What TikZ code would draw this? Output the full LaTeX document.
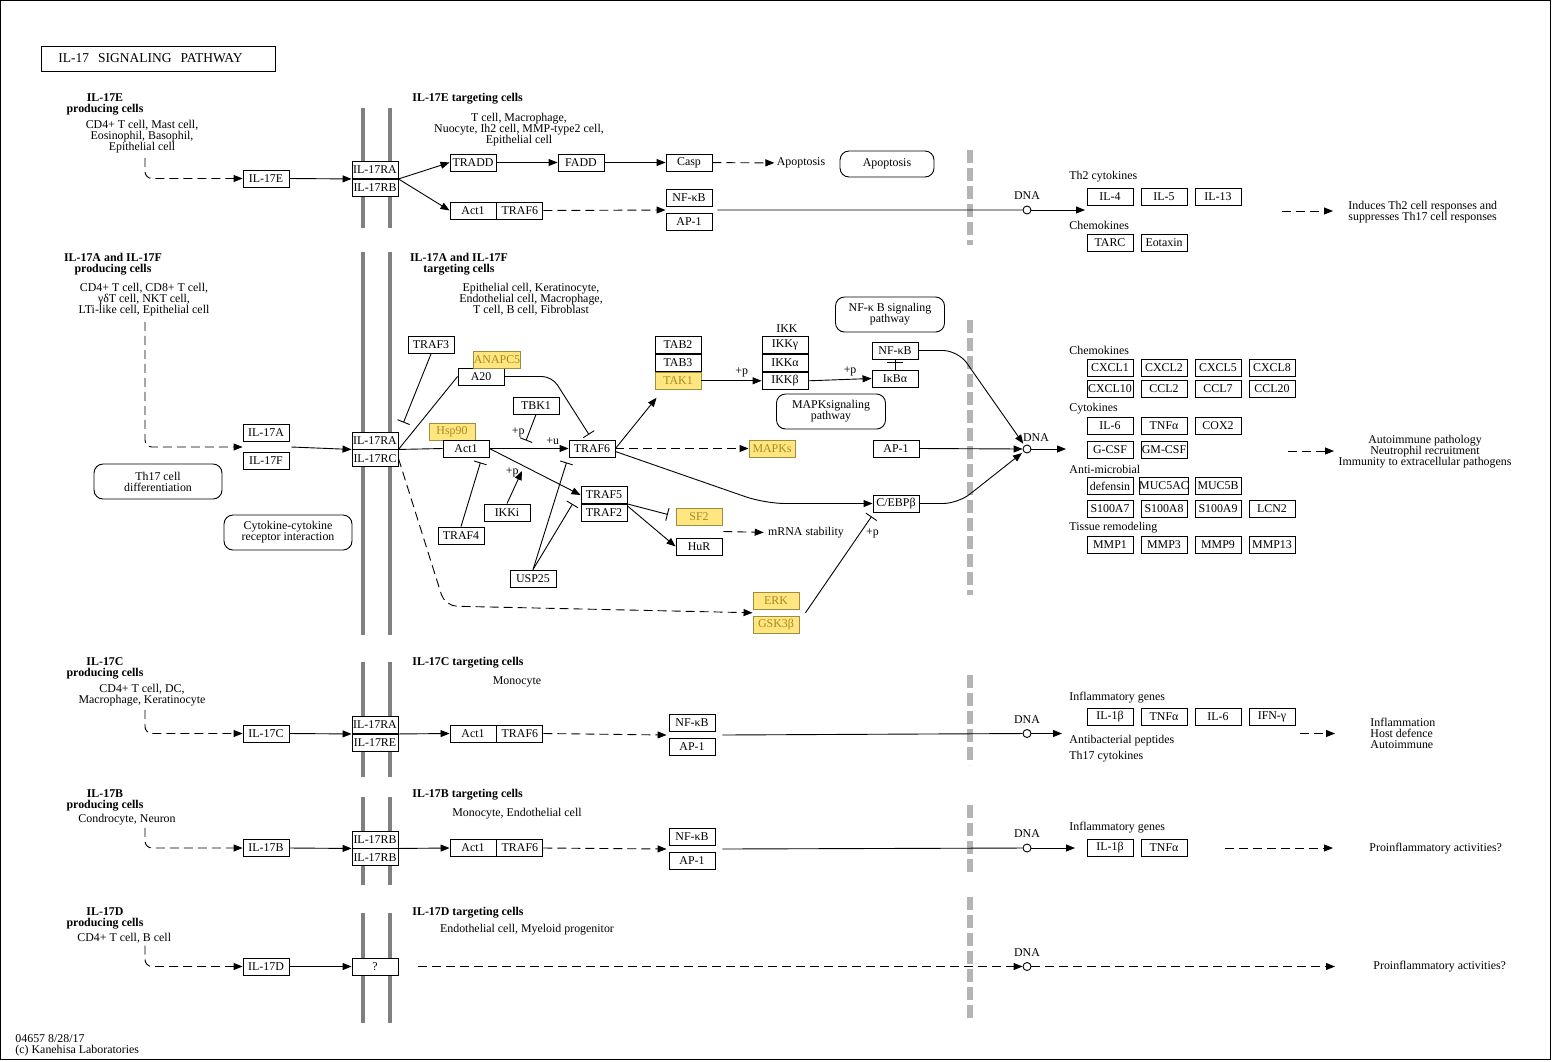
\documentclass[tikz,border=0pt]{standalone}
\usepackage{fontspec}
\setmainfont{Liberation Serif}
\usetikzlibrary{positioning}
\usetikzlibrary{calc}
\usetikzlibrary{arrows.meta}

\definecolor{hitfill}{HTML}{FFE680}
\definecolor{hitline}{HTML}{A08C3C}
\definecolor{hittext}{HTML}{A8891E}
\definecolor{membrane}{HTML}{808080}
\definecolor{nucleus}{HTML}{B4B4B4}

\newcommand{\kfont}{\fontsize{11.9}{11}\selectfont}

\begin{document}
\begin{tikzpicture}[x=1pt, y=-1pt, line width=0.9pt, font=\kfont,
    >={Triangle[length=9pt,width=7pt]},
    gene/.style={draw, fill=white, minimum width=46pt, minimum height=17pt, inner sep=0pt},
    hit/.style={gene, fill=hitfill, draw=hitline, text=hittext},
    pmap/.style={draw, rounded corners=9pt, align=center, inner sep=0pt},
    txt/.style={align=center, inner sep=0pt},
    ltxt/.style={align=left, inner sep=0pt, anchor=west},
    head/.style={txt, font=\kfont\bfseries},
    edgelbl/.style={inner sep=0pt},
    dna/.style={circle, draw, fill=white, minimum size=8pt, inner sep=0pt},
    act/.style={->},
    ind/.style={->, dash pattern=on 9pt off 5pt},
    inh/.style={-{Bar[width=13pt]}},
    mem/.style={line width=4pt, draw=membrane},
    nuc/.style={line width=6pt, draw=nucleus, dash pattern=on 13pt off 5pt}]
\useasboundingbox (0,0) rectangle (1552,1061);
\draw (0.5,0.5) rectangle (1550.5,1059.5);

\node[draw, anchor=west, minimum height=25pt, inner xsep=17pt, text width=200pt, font=\fontsize{13.5}{13}\selectfont] (title) at (41,58.5) {IL-17\ \ SIGNALING\ \ PATHWAY};

% membranes and nucleus borders
\foreach \ya/\yb in {108/228, 252/635, 662/777, 797/885, 913/1023} {
    \draw[mem] (363,\ya) -- (363,\yb);
    \draw[mem] (389.5,\ya) -- (389.5,\yb);
}
\foreach \ya/\yb in {150/245, 320/595, 675/765, 805/875, 897/1020}
    \draw[nuc] (970,\ya) -- (970,\yb);

% IL-17E
\node[head] (eProd) at (105,104.5) {IL-17E\\producing cells};
\node[txt] (eCells) at (142,137) {CD4+ T cell, Mast cell,\\Eosinophil, Basophil,\\Epithelial cell};
\node[gene] (ilE) at (266,178.5) {IL-17E};
\node[gene] (rEA) at (375,170) {IL-17RA};
\node[gene, below=0pt of rEA] (rEB) {IL-17RB};
\node[ltxt, font=\kfont\bfseries] (eTgt) at (412,99) {IL-17E targeting cells};
\node[txt] (eTcells) at (519,129.5) {T cell, Macrophage,\\Nuocyte, Ih2 cell, MMP-type2 cell,\\Epithelial cell};
\node[gene] (tradd) at (473,162.5) {TRADD};
\node[gene] (fadd) at (581,162.5) {FADD};
\node[gene] (casp) at (689,162.5) {Casp};
\node[txt] (apopT) at (801,163) {Apoptosis};
\node[pmap, minimum width=94pt, minimum height=26pt] (apopM) at (887,164) {Apoptosis};
\node[gene] (act1E) at (473,210.5) {Act1};
\node[gene, right=0pt of act1E] (traf6E) {TRAF6};
\node[gene] (nfkbE) at (689,198) {NF-κB};
\node[gene] (ap1E) at (689,222) {AP-1};
\node[dna] (dnaE) at (1027,210) {};
\node[txt] (dnaEl) at (1027,196) {DNA};
\node[ltxt] (eOut) at (1348,212.5) {Induces Th2 cell responses and\\suppresses Th17 cell responses};
\coordinate (eGenes) at (1085,210);
\coordinate (eDashA) at (1282,211);
\coordinate (eDashB) at (1333,211);

\draw[ind, rounded corners=7pt] ([xshift=3pt,yshift=-4pt]eCells.south) |- (ilE.west);
\draw[act] (ilE.east) -- (rEA.south west);
\draw[act] (rEA.south east) -- (tradd.west);
\draw[act] (rEA.south east) -- (act1E.west);
\draw[act] (tradd) -- (fadd);
\draw[act] (fadd) -- (casp);
\draw[ind, shorten >=2pt] (casp) -- (apopT);
\draw[ind] (traf6E.east) -- ($(nfkbE.south west)!0.5!(ap1E.north west)$);
\draw ($(nfkbE.south east)!0.5!(ap1E.north east)+(5,0)$) -- (dnaE);
\draw[act] (dnaE) -- (eGenes);
\draw[ind] (eDashA) -- (eDashB);

% IL-17A and IL-17F
\node[head] (afProd) at (113,264.5) {IL-17A and IL-17F\\producing cells};
\node[txt] (afCells) at (144,300) {CD4+ T cell, CD8+ T cell,\\γδT cell, NKT cell,\\LTi-like cell, Epithelial cell};
\node[gene] (ilA) at (266,433) {IL-17A};
\node[gene] (ilF) at (266,461) {IL-17F};
\node[gene] (rAA) at (375,440.5) {IL-17RA};
\node[gene, below=0pt of rAA] (rAC) {IL-17RC};
\node[pmap, minimum width=128pt, minimum height=35pt] (th17M) at (158,481.5) {Th17 cell\\differentiation};
\node[pmap, minimum width=128pt, minimum height=35pt] (ccrM) at (288,532.5) {Cytokine-cytokine\\receptor interaction};
\node[head] (afTgt) at (459,264.5) {IL-17A and IL-17F\\targeting cells};
\node[txt] (afTcells) at (531,299) {Epithelial cell, Keratinocyte,\\Endothelial cell, Macrophage,\\T cell, B cell, Fibroblast};
\node[gene] (traf3) at (431,345) {TRAF3};
\node[gene] (a20) at (481,376.5) {A20};
\node[hit] (anapc5) at (497,359.5) {ANAPC5};
\node[gene] (tbk1) at (536,405.5) {TBK1};
\node[hit] (hsp90) at (452,431.5) {Hsp90};
\node[gene] (act1) at (466,448.5) {Act1};
\node[gene] (traf6) at (592,448.5) {TRAF6};
\node[gene] (traf5) at (604,495) {TRAF5};
\node[gene, below=0pt of traf5] (traf2) {TRAF2};
\node[hit] (sf2) at (699,516.5) {SF2};
\node[gene] (hur) at (699,546.5) {HuR};
\node[gene] (ikki) at (507,512.5) {IKKi};
\node[gene] (traf4) at (461,535.5) {TRAF4};
\node[gene] (usp25) at (533,578.5) {USP25};
\node[gene] (tab2) at (678,345) {TAB2};
\node[gene, below=0pt of tab2] (tab3) {TAB3};
\node[hit, below=0pt of tab3] (tak1) {TAK1};
\node[txt] (ikkl) at (787,329) {IKK};
\node[gene] (ikkg) at (785,345) {IKKγ};
\node[gene, below=0pt of ikkg] (ikka) {IKKα};
\node[gene, below=0pt of ikka] (ikkb) {IKKβ};
\node[gene] (nfkb) at (895,350.5) {NF-κB};
\node[gene] (ikba) at (895,378.5) {IκBα};
\node[pmap, minimum width=109pt, minimum height=35pt] (nfkbM) at (890,314.5) {NF-κ B signaling\\pathway};
\node[pmap, minimum width=109pt, minimum height=35pt] (mapkM) at (831,411.5) {MAPKsignaling\\pathway};
\node[hit] (mapks) at (772,448.5) {MAPKs};
\node[gene] (ap1) at (896,448.5) {AP-1};
\node[gene] (cebpb) at (896,503.5) {C/EBPβ};
\node[dna] (dnaA) at (1027,449) {};
\node[txt] (dnaAl) at (1036,438) {DNA};
\node[hit] (erk) at (776,601) {ERK};
\node[hit] (gsk3b) at (776,624.5) {GSK3β};
\node[txt] (mrna) at (806,532.5) {mRNA stability};
\node[txt] (afOut) at (1425,452) {Autoimmune pathology\\Neutrophil recruitment\\Immunity to extracellular pathogens};
\coordinate (afGenes) at (1066,449);
\coordinate (afDashA) at (1288,451);
\coordinate (afDashB) at (1334,451);
\coordinate (ikkiTip) at (522,471);

\draw[ind, rounded corners=7pt] ([xshift=1pt,yshift=-5pt]afCells.south) |- ($(ilA.south west)!0.5!(ilF.north west)$);
\draw[act] ($(ilA.south east)!0.5!(ilF.north east)+(2,0)$) -- (rAA.south west);
\draw (rAA.south east) -- (act1.west);
\draw (rAA.south east) -- (a20.west);
\draw[inh] (traf3.south) -- ($(rAA.north east)+(5,-9)$);
\draw[inh, rounded corners=10pt] (a20.east) -- (552,376.5) -- ($(traf6.north)+(-3,-5)$);
\draw[act] (act1.east) -- (traf6.west) node[edgelbl, pos=0.8, above=3pt] {+u};
\draw[inh] (tbk1.south) -- ($(act1.north east)!0.5!(traf6.north west)+(-3,1)$)
    node[edgelbl, pos=1, anchor=south east, xshift=-1pt, yshift=3pt] {+p};
\draw[inh] (traf4.north) -- ($(act1.south east)+(-9,5)$);
\draw[act] (ikki.north) -- (ikkiTip) node[edgelbl, pos=1, anchor=east, xshift=-3pt, yshift=-1pt] {+p};
\draw[act] (act1.east) -- (traf5.west);
\draw[act] (traf6.east) -- ($(tak1.south west)+(2,8)$);
\draw[ind] (traf6.east) -- (mapks.west);
\draw[act, rounded corners=20pt] ($(traf6.east)+(0,3)$) -- (765,503.5) -- (cebpb.west);
\draw[act] (tak1.east) -- (ikkb.west) node[edgelbl, pos=0.67, above=3pt] {+p};
\draw[act] (ikkb.east) -- (ikba.west) node[edgelbl, pos=0.66, above=3pt] {+p};
\draw (ikba) -- (nfkb);
\draw[-{Bar[width=16pt]}, shorten >=3pt] (ikba) -- (nfkb);
\draw[act, rounded corners=15pt, shorten >=2pt] (nfkb.east) -- (958,350.5) -- (dnaA);
\draw[act] (ap1.east) -- (dnaA.west);
\draw[act, rounded corners=15pt, shorten >=2pt] (cebpb.east) -- (958,503.5) -- (dnaA);
\draw[act] (dnaA.east) -- (afGenes);
\draw[ind, rounded corners=12pt] (rAC.east) -- (445,606) -- ($(erk.south west)!0.5!(gsk3b.north west)$);
\draw[inh, shorten >=8pt] (traf2.north east) -- (sf2.west);
\draw[act] ($(traf2.north east)+(0,2)$) -- (hur.west);
\draw[inh] (usp25.north) -- ($(traf6.south west)+(-2,5)$);
\draw[inh] (usp25.north) -- ($(traf5.south west)+(-8,0)$);
\draw[ind, shorten >=4pt] ($(sf2.south east)!0.5!(hur.north east)+(1,0)$) -- (mrna.west);
\draw[inh] ($(erk.south east)!0.5!(gsk3b.north east)+(6,0)$) -- ($(cebpb.south west)+(-1,4)$)
    node[edgelbl, pos=0.82, anchor=west, xshift=6pt] {+p};
\draw[ind] (afDashA) -- (afDashB);

% IL-17C
\node[head] (cProd) at (105,668) {IL-17C\\producing cells};
\node[txt] (cCells) at (142,695.5) {CD4+ T cell, DC,\\Macrophage, Keratinocyte};
\node[gene] (ilC) at (266,733.5) {IL-17C};
\node[gene] (rCA) at (375,725) {IL-17RA};
\node[gene, below=0pt of rCA] (rCE) {IL-17RE};
\node[ltxt, font=\kfont\bfseries] (cTgt) at (412,663) {IL-17C targeting cells};
\node[txt] (cTcells) at (517,682) {Monocyte};
\node[gene] (act1C) at (473,733.5) {Act1};
\node[gene, right=0pt of act1C] (traf6C) {TRAF6};
\node[gene] (nfkbC) at (692,723) {NF-κB};
\node[gene] (ap1C) at (692,747) {AP-1};
\node[dna] (dnaC) at (1027,733.5) {};
\node[txt] (dnaCl) at (1027,720) {DNA};
\node[ltxt] (cOut) at (1370,733) {Inflammation\\Host defence\\Autoimmune};
\coordinate (cGenes) at (1062,733.5);
\coordinate (cDashA) at (1300,733.5);
\coordinate (cDashB) at (1335,733.5);

\draw[ind, rounded corners=7pt] ([xshift=3pt,yshift=-3pt]cCells.south) |- (ilC.west);
\draw[act] (ilC.east) -- (rCA.south west);
\draw[act] (rCA.south east) -- (act1C.west);
\draw[ind] (traf6C.east) -- ($(nfkbC.south west)!0.5!(ap1C.north west)+(-2,0)$);
\draw ($(nfkbC.south east)!0.5!(ap1C.north east)+(7,0)$) -- (dnaC);
\draw[act] (dnaC) -- (cGenes);
\draw[ind] (cDashA) -- (cDashB);

% IL-17B
\node[head] (bProd) at (105,800.5) {IL-17B\\producing cells};
\node[ltxt] (bCells) at (78,820) {Condrocyte, Neuron};
\node[gene] (ilB) at (266,848) {IL-17B};
\node[gene] (rBB) at (375,839.5) {IL-17RB};
\node[gene, below=0pt of rBB] (rBB2) {IL-17RB};
\node[ltxt, font=\kfont\bfseries] (bTgt) at (412,795) {IL-17B targeting cells};
\node[txt] (bTcells) at (517,814) {Monocyte, Endothelial cell};
\node[gene] (act1B) at (473,848) {Act1};
\node[gene, right=0pt of act1B] (traf6B) {TRAF6};
\node[gene] (nfkbB) at (692,837) {NF-κB};
\node[gene] (ap1B) at (692,861) {AP-1};
\node[dna] (dnaB) at (1027,848) {};
\node[txt] (dnaBl) at (1027,834) {DNA};
\node[ltxt] (bOut) at (1369,849) {Proinflammatory activities?};
\coordinate (bGenes) at (1075,848);
\coordinate (bDashA) at (1225,848);
\coordinate (bDashB) at (1333,848);

\draw[ind, rounded corners=7pt] ($(bCells.south west)+(67,2)$) |- (ilB.west);
\draw[act] (ilB.east) -- (rBB.south west);
\draw[act] (rBB.south east) -- (act1B.west);
\draw[ind] (traf6B.east) -- ($(nfkbB.south west)!0.5!(ap1B.north west)+(-2,0)$);
\draw ($(nfkbB.south east)!0.5!(ap1B.north east)+(7,0)$) -- (dnaB);
\draw[act] (dnaB) -- (bGenes);
\draw[ind] (bDashA) -- (bDashB);

% IL-17D
\node[head] (dProd) at (105,918.5) {IL-17D\\producing cells};
\node[ltxt] (dCells) at (77,938) {CD4+ T cell, B cell};
\node[gene] (ilD) at (266,966.5) {IL-17D};
\node[gene] (qbox) at (375,966.5) {?};
\node[ltxt, font=\kfont\bfseries] (dTgt) at (412,913) {IL-17D targeting cells};
\node[txt] (dTcells) at (527,930) {Endothelial cell, Myeloid progenitor};
\node[dna] (dnaD) at (1027,966.5) {};
\node[txt] (dnaDl) at (1027,953) {DNA};
\node[ltxt] (dOut) at (1373,967) {Proinflammatory activities?};
\coordinate (dDashB) at (1335,966.5);

\draw[ind, rounded corners=7pt] ($(dCells.south west)+(68,2)$) |- (ilD.west);
\draw[act] (ilD) -- (qbox);
\draw[ind] ([xshift=20pt]qbox.east) -- (dnaD);
\draw[ind] (dnaD) -- (dDashB);

% target genes in the nucleus
\foreach \y/\t [count=\k] in {177/Th2 cytokines, 225/Chemokines, 350/Chemokines, 409/Cytokines,
    469/Anti-microbial, 528/Tissue remodeling, 698/Inflammatory genes, 741/Antibacterial peptides,
    757/Th17 cytokines, 828/Inflammatory genes}
    \node[ltxt] (grp\k) at (1069,\y) {\t};
\foreach \y/\row [count=\r] in {197/{IL-4,IL-5,IL-13}, 243/{TARC,Eotaxin},
    367.5/{CXCL1,CXCL2,CXCL5,CXCL8}, 389/{CXCL10,CCL2,CCL7,CCL20}, 426/{IL-6,TNFα,COX2},
    450/{G-CSF,GM-CSF}, 486/{defensin,MUC5AC,MUC5B}, 508.5/{S100A7,S100A8,S100A9,LCN2},
    545/{MMP1,MMP3,MMP9,MMP13}, 716.5/{IL-1β,TNFα,IL-6,IFN-γ}, 847.5/{IL-1β,TNFα}}
    \foreach \g [count=\i from 0] in \row
        \node[gene] (out\r-\i) at ({1110+54*\i},\y) {\g};

\node[ltxt] (foot) at (15,1045.5) {04657 8/28/17\\(c) Kanehisa Laboratories};
\end{tikzpicture}
\end{document}
